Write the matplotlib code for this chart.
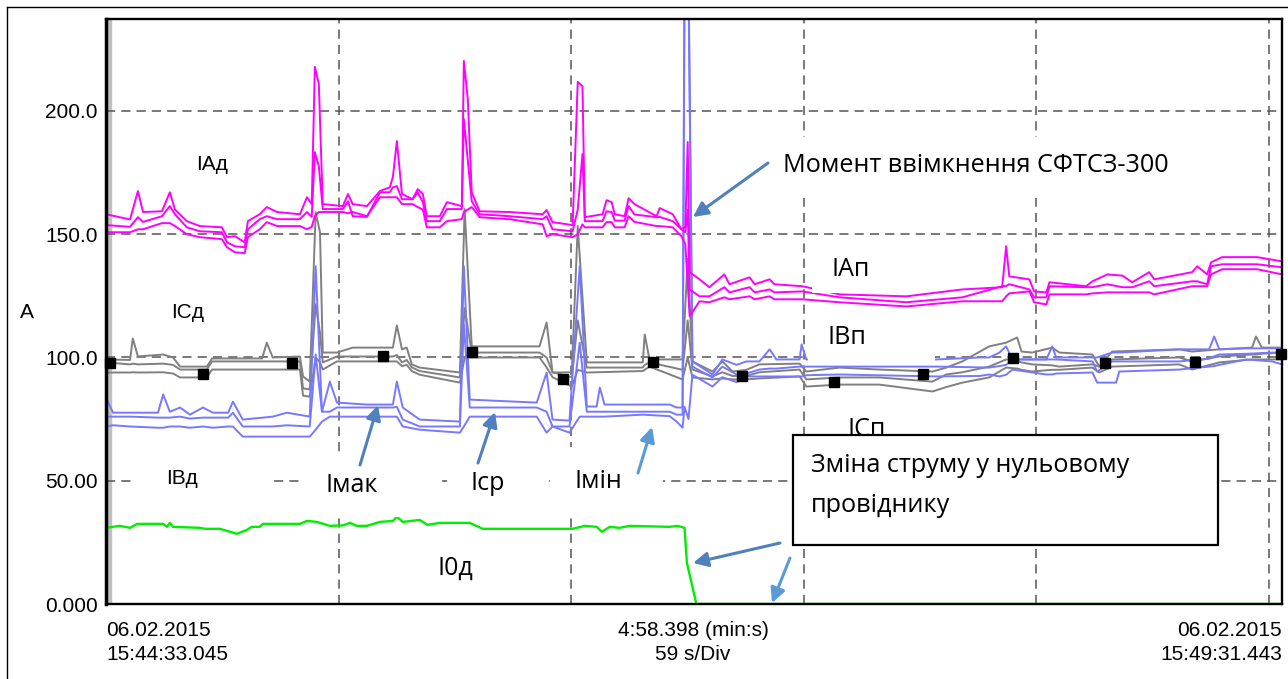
import matplotlib
matplotlib.use("Agg")
import matplotlib.pyplot as plt
import matplotlib.transforms as mtransforms
from matplotlib.patches import Rectangle
from matplotlib.lines import Line2D

# -----------------------------
# Data (time in s, current in A)
# -----------------------------
# phase A (magenta): max / avg / min
a_t = [0, 6.1, 8.1, 9.4, 14.2, 16.2, 17.5, 20.5, 23.8, 29.4,
       30.7, 32.7, 35.2, 36.0, 39.0, 40.8, 43.4, 49.2, 51.0, 52.2,
       53.0, 54.0, 55.0, 60.1, 61.4, 62.6, 66.2, 69.5, 72.0, 72.8,
       73.8, 75.1, 77.8, 79.1, 80.4, 81.4, 84.7, 86.5, 90.3, 90.8,
       91.8, 92.8, 94.8, 102.4, 110.8, 111.8, 113.3, 118.4, 119.7, 120.9,
       121.5, 126.0, 127.0, 128.3, 129.1, 131.6, 132.6, 134.1, 139.7, 140.5,
       143.8, 146.0, 147.0, 147.6, 148.1, 150.6, 153.1, 156.9, 158.2, 163.3,
       164.6, 168.4, 169.6, 176.7, 186.1, 203.1, 217.3, 227.4, 228.4, 229.2,
       234.3, 235.5, 238.6, 239.4, 248.7, 250.3, 254.1, 257.9, 260.4, 264.7,
       266.0, 275.6, 276.9, 279.4, 280.4, 283.2, 292.1, 298.4]
a_max = [158.1, 156.0, 167.5, 159.0, 159.3, 167.0, 160.0, 155.3, 153.3, 152.8,
         148.8, 149.2, 146.7, 155.3, 158.1, 161.0, 159.0, 158.1, 165.0, 162.2,
         217.9, 211.0, 162.2, 161.4, 166.3, 162.2, 161.4, 167.5, 169.0, 173.2,
         187.8, 166.3, 164.2, 168.3, 166.3, 157.3, 157.3, 163.0, 161.4, 220.3,
         204.9, 167.0, 159.3, 159.0, 158.1, 159.8, 154.9, 153.7, 211.8, 210.0,
         156.9, 158.1, 163.8, 163.0, 158.1, 157.3, 164.6, 162.2, 157.3, 160.6,
         158.1, 152.0, 153.0, 187.4, 134.6, 131.7, 128.5, 133.7, 129.7, 132.5,
         129.7, 131.7, 129.7, 128.9, 125.6, 124.8, 127.6, 128.5, 145.1, 132.9,
         131.7, 126.8, 126.4, 130.5, 128.9, 130.9, 133.7, 133.2, 130.5, 134.6,
         131.7, 134.6, 137.0, 133.7, 138.6, 140.7, 140.7, 139.0]
a_avg = [153.7, 153.0, 156.9, 155.0, 157.3, 161.4, 158.1, 152.8, 151.2, 150.8,
         146.7, 145.1, 144.7, 152.0, 156.1, 157.3, 156.1, 156.1, 159.0, 157.0,
         183.3, 177.6, 160.2, 160.2, 163.4, 157.3, 157.0, 167.0, 167.0, 169.0,
         169.5, 164.2, 164.2, 167.0, 163.0, 155.3, 155.3, 160.2, 160.2, 196.7,
         180.0, 163.4, 158.1, 157.3, 156.1, 157.3, 152.0, 151.2, 160.0, 182.5,
         155.3, 155.3, 159.3, 159.0, 155.5, 155.5, 161.4, 158.0, 156.9, 157.0,
         155.3, 152.0, 150.8, 160.0, 127.6, 124.8, 124.8, 128.5, 126.4, 128.5,
         126.4, 127.6, 126.4, 126.8, 124.4, 122.4, 124.4, 128.9, 129.0, 129.7,
         127.6, 124.4, 124.4, 128.9, 128.5, 128.5, 129.7, 128.5, 128.5, 130.9,
         128.9, 130.9, 130.9, 129.7, 137.0, 137.8, 137.8, 136.6]
a_min = [150.8, 150.8, 152.0, 152.0, 154.5, 154.5, 153.3, 150.0, 148.8, 148.0,
         144.7, 142.7, 142.3, 148.8, 152.0, 154.9, 153.3, 153.3, 152.0, 153.0,
         157.3, 159.0, 159.0, 159.0, 158.5, 159.0, 157.3, 165.0, 165.0, 165.0,
         165.0, 162.2, 162.2, 161.0, 160.0, 152.8, 152.8, 155.3, 156.1, 159.0,
         160.0, 161.0, 156.9, 156.1, 154.0, 149.2, 150.0, 148.8, 150.0, 154.0,
         152.8, 152.8, 154.9, 154.9, 152.8, 152.8, 157.3, 155.0, 153.3, 153.3,
         152.8, 149.2, 145.9, 130.0, 116.7, 122.8, 122.4, 124.4, 123.6, 124.8,
         123.6, 124.8, 123.6, 123.6, 122.4, 120.7, 122.8, 122.8, 124.8, 126.0,
         126.8, 122.4, 121.5, 125.6, 125.6, 126.0, 126.4, 126.4, 126.4, 126.4,
         125.6, 128.9, 128.9, 128.9, 133.7, 135.8, 135.8, 133.7]

# phase B (blue): max / avg / min
b_t = [0, 1.8, 6.1, 13.2, 14.5, 16.2, 18.8, 21.3, 24.6, 27.1,
       31.0, 32.2, 34.7, 42.3, 45.9, 51.7, 53.2, 54.8, 56.8, 58.6,
       66.2, 72.8, 73.8, 75.3, 79.6, 89.8, 90.8, 92.3, 109.3, 111.8,
       113.3, 117.6, 120.2, 122.0, 124.5, 125.3, 126.5, 136.2, 143.0, 144.8,
       146.3, 146.8, 147.8, 148.8, 153.9, 156.4, 160.0, 162.5, 165.8, 168.4,
       170.1, 176.0, 176.5, 177.7, 186.1, 210.7, 221.6, 224.1, 226.7, 228.4,
       230.0, 238.6, 240.1, 241.1, 250.3, 251.5, 255.3, 256.3, 257.1, 272.3,
       279.9, 281.2, 282.5, 289.3, 295.9, 298.4]
b_max = [83.7, 77.6, 77.6, 77.6, 85.0, 78.0, 79.7, 76.8, 79.7, 77.6,
         77.6, 82.1, 74.8, 76.0, 77.6, 76.0, 137.0, 78.0, 90.2, 81.7,
         80.9, 80.9, 90.2, 79.7, 74.8, 74.0, 137.0, 82.9, 81.7, 93.9,
         74.8, 74.4, 137.0, 80.1, 80.1, 87.8, 80.9, 80.9, 80.9, 79.7,
         79.7, 260.0, 260.0, 98.4, 93.1, 99.2, 97.0, 98.4, 98.4, 103.3,
         99.2, 99.2, 105.3, 99.2, 99.2, 99.2, 100.0, 100.0, 102.0, 104.5,
         99.2, 99.2, 104.5, 100.0, 100.0, 100.0, 102.0, 102.0, 102.0, 103.3,
         103.3, 108.5, 103.3, 103.7, 103.7, 103.7]
b_avg = [76.0, 76.0, 76.0, 75.6, 75.6, 75.6, 76.0, 75.2, 75.6, 75.6,
         75.6, 77.6, 72.0, 72.0, 72.5, 72.0, 101.2, 78.0, 78.0, 79.7,
         79.7, 79.7, 80.0, 74.8, 72.0, 72.0, 113.4, 79.7, 79.7, 78.0,
         72.0, 72.0, 106.0, 78.0, 78.0, 78.0, 78.0, 78.0, 78.0, 76.8,
         76.8, 250.0, 250.0, 96.3, 91.9, 96.3, 93.1, 93.5, 95.1, 95.5,
         95.5, 96.3, 96.3, 96.3, 96.3, 96.3, 96.0, 95.9, 96.5, 97.0,
         99.2, 99.2, 99.2, 99.2, 98.4, 94.3, 98.4, 98.4, 98.4, 98.4,
         99.5, 100.5, 101.2, 101.5, 102.0, 102.0]
b_min = [72.0, 72.5, 72.0, 71.5, 71.5, 72.0, 72.0, 71.5, 72.0, 71.5,
         72.0, 72.0, 67.9, 67.9, 67.9, 67.9, 70.7, 74.0, 76.0, 76.0,
         76.0, 76.0, 76.0, 72.0, 70.7, 69.5, 72.0, 76.0, 76.0, 69.5,
         72.0, 69.5, 76.0, 76.0, 76.0, 76.0, 76.0, 76.8, 76.2, 74.0,
         71.5, 80.0, 75.0, 93.0, 88.2, 92.0, 90.0, 92.3, 92.3, 92.3,
         92.3, 92.3, 92.3, 92.8, 93.1, 92.3, 92.5, 93.1, 92.3, 93.0,
         95.1, 93.1, 93.1, 93.5, 93.9, 89.8, 89.8, 89.8, 94.3, 95.1,
         96.3, 96.5, 97.0, 99.2, 98.4, 97.2]

# phase C (gray): max / avg / min
c_t = [0, 6.1, 6.8, 8.1, 14.5, 17.0, 18.8, 25.6, 26.9, 39.6,
       40.8, 42.3, 49.2, 50.0, 51.7, 53.2, 54.3, 55.0, 58.6, 62.6,
       72.8, 73.8, 75.1, 76.3, 77.6, 79.6, 89.8, 91.0, 92.8, 110.0,
       111.8, 113.3, 118.2, 119.7, 122.0, 136.2, 136.7, 137.9, 146.3, 147.6,
       148.8, 153.9, 156.4, 159.0, 162.5, 165.8, 176.0, 177.7, 186.1, 196.2,
       209.7, 213.2, 217.3, 224.1, 228.4, 231.2, 232.3, 235.0, 240.1, 241.9,
       250.3, 252.0, 255.3, 272.3, 275.6, 282.5, 290.8, 291.8, 293.3, 298.4]
c_max = [99.2, 99.0, 107.7, 100.4, 101.2, 100.0, 96.3, 96.3, 99.6, 99.6,
         106.0, 100.0, 100.4, 92.3, 90.2, 158.9, 150.8, 102.0, 102.0, 104.0,
         104.0, 113.0, 103.3, 104.0, 97.2, 95.9, 93.9, 160.2, 104.5, 104.5,
         114.2, 93.9, 94.0, 153.3, 98.0, 98.0, 109.3, 99.2, 99.2, 140.0,
         98.4, 94.3, 98.4, 94.3, 95.0, 97.2, 97.5, 94.3, 95.9, 95.1,
         94.3, 95.9, 98.4, 104.5, 106.0, 108.1, 102.4, 102.0, 104.0, 102.0,
         101.2, 96.3, 102.4, 103.3, 102.4, 103.3, 104.0, 108.5, 104.0, 104.0]
c_avg = [98.0, 97.2, 97.5, 97.2, 97.5, 97.0, 95.1, 95.1, 98.4, 98.4,
         98.4, 98.4, 98.4, 87.5, 87.0, 121.5, 110.0, 98.0, 100.4, 100.4,
         100.4, 101.0, 98.0, 99.0, 96.0, 94.5, 91.9, 120.0, 102.0, 102.0,
         100.0, 94.0, 92.0, 115.0, 95.9, 95.9, 97.0, 98.0, 95.0, 115.0,
         95.1, 92.3, 94.0, 92.5, 92.5, 94.0, 95.1, 91.1, 91.9, 91.9,
         90.2, 93.1, 94.0, 96.3, 99.2, 98.5, 98.0, 97.2, 96.8, 96.3,
         97.2, 96.3, 99.2, 100.0, 98.4, 100.4, 101.2, 101.2, 101.5, 102.0]
c_min = [93.9, 93.9, 94.0, 93.9, 94.0, 93.5, 91.9, 91.9, 95.1, 95.1,
         95.1, 95.1, 95.1, 84.5, 84.1, 100.0, 98.0, 95.1, 98.4, 98.4,
         98.4, 98.4, 96.5, 97.0, 94.5, 93.0, 89.8, 100.0, 100.0, 100.0,
         96.0, 92.0, 88.2, 95.0, 93.9, 94.5, 95.0, 96.3, 91.1, 100.0,
         91.9, 91.1, 91.5, 91.1, 91.1, 91.5, 92.3, 88.2, 89.0, 89.0,
         86.2, 88.0, 89.8, 91.9, 95.9, 95.5, 95.0, 94.3, 95.0, 95.0,
         95.9, 93.9, 96.3, 97.2, 95.1, 98.0, 99.2, 99.2, 99.2, 99.2]

# cursor markers on phase C
mk_t = [1.0, 24.6, 47.2, 70.2, 92.8, 115.9, 138.9, 161.5, 184.6, 207.4,
        230.2, 253.5, 276.4, 298.2]
mk_v = [97.6, 93.5, 97.6, 100.8, 102.4, 91.1, 98.0, 92.3, 90.2, 93.1,
        99.6, 97.6, 98.0, 101.6]

# neutral conductor current I0 (green)
i0_t = [0, 3.5, 6.1, 7.9, 14.5, 15.5, 16.2, 17.0, 23.8, 25.1,
        28.9, 33.2, 35.8, 37.0, 39.0, 39.8, 49.2, 51.0, 53.5, 56.8,
        60.1, 61.9, 63.6, 66.2, 69.5, 72.8, 73.8, 75.3, 79.6, 81.6,
        84.7, 92.3, 95.6, 118.4, 121.5, 124.5, 125.8, 127.8, 130.3, 132.9,
        143.0, 145.0, 146.8, 147.4, 149.8, 298.4]
i0_v = [30.9, 31.7, 30.9, 32.5, 32.5, 31.3, 32.9, 31.3, 30.9, 30.5,
        30.5, 28.5, 30.1, 31.3, 31.3, 32.5, 32.5, 33.7, 33.3, 31.7,
        31.9, 32.9, 31.7, 31.7, 33.3, 33.7, 35.4, 33.3, 34.1, 32.1,
        32.9, 32.9, 30.5, 30.5, 31.7, 31.3, 29.3, 31.3, 30.9, 31.7,
        31.3, 31.7, 30.9, 16.7, 0.0, 0.0]

y_ticks = [0, 50, 100, 150, 200]
y_tick_labels = ["0.000", "50.00", "100.0", "150.0", "200.0"]
x_grid = [59, 118, 177, 236, 295]

# -----------------------------
# Figure
# -----------------------------
plt.rcParams["font.family"] = ["Liberation Sans", "DejaVu Sans"]
CAL = ["Open Sans", "DejaVu Sans"]

W, H = 1288, 679
fig = plt.figure(figsize=(W / 100, H / 100), dpi=100)
ax = fig.add_axes([106 / W, 1 - 604 / H, 1176 / W, 585 / H])
# pixel coords of the picture (origin top-left) for the annotations
pix = mtransforms.Affine2D().scale(1 / W, -1 / H).translate(0, 1) + fig.transFigure

MAG = "#ff00ff"
BLUE = "#7878ff"
GRAY = "#808080"
GREEN = "#00ee00"
LW = 1.4

for v in (c_max, c_avg, c_min):
    ax.plot(c_t, v, color=GRAY, lw=LW, zorder=2)
for v in (b_max, b_avg, b_min):
    ax.plot(b_t, v, color=BLUE, lw=LW, zorder=2.1)
for v in (a_max, a_avg, a_min):
    ax.plot(a_t, v, color=MAG, lw=LW, zorder=2.2)
ax.plot(i0_t, i0_v, color=GREEN, lw=LW + 0.3, zorder=2.3)
ax.plot(mk_t, mk_v, "s", color="black", ms=6.5, clip_on=False, zorder=4)

ax.axvspan(0, 1.2, color="#c0c0c0", zorder=1)

ax.set_xlim(0, 298.4)
ax.set_ylim(0, 237.3)
ax.set_xticks(x_grid)
ax.set_xticklabels([])
ax.set_yticks(y_ticks)
ax.set_yticklabels(y_tick_labels, fontsize=15)
ax.tick_params(length=0, pad=6)
ax.grid(True, color="#555555", lw=1.1, linestyle=(0, (6, 4)))

for side in ("top", "right", "bottom"):
    ax.spines[side].set_linewidth(1.7)
ax.spines["left"].set_linewidth(2.5)

# outer frame
fig.add_artist(Line2D([7 / W, 1], [1 - 7 / H, 1 - 7 / H], color="black", lw=1))
fig.add_artist(Line2D([7 / W, 7 / W], [0, 1 - 7 / H], color="black", lw=1))

# white boxes behind the labels
label_boxes = [(133, 462, 272, 500), (300, 457, 440, 517), (447, 462, 543, 510),
               (550, 447, 663, 517), (775, 137, 1190, 198), (812, 250, 885, 293),
               (808, 318, 935, 361)]
for x0, y0, x1, y1 in label_boxes:
    ax.add_patch(Rectangle((x0, y0), x1 - x0, y1 - y0, transform=pix,
                           facecolor="white", edgecolor="none",
                           clip_on=False, zorder=5))


def label(x, y, s, size=15, family=None, ha="center", z=7):
    kw = {"family": family} if family else {}
    ax.text(x, y, s, transform=pix, fontsize=size, ha=ha, va="center",
            clip_on=False, zorder=z, **kw)


label(212, 165, "IАд")
label(188, 312, "IСд")
label(182, 478, "IВд")
label(27, 313, "A")
label(352, 485, "Iмак", 18, CAL)
label(488, 484, "Iср", 18, CAL)
label(598, 482, "Iмін", 18, CAL)
label(455, 568, "I0д", 18, CAL)
label(851, 270, "IАп", 18, CAL)
label(847, 338, "IВп", 18, CAL)
label(867, 430, "IСп", 18, CAL, z=4.5)
label(783, 165, "Момент ввімкнення СФТСЗ-300", 18.2, CAL, ha="left")

# callout box
ax.add_patch(Rectangle((793, 435), 425, 110, transform=pix, facecolor="white",
                       edgecolor="black", lw=1.6, clip_on=False, zorder=5.5))
label(811, 466, "Зміна струму у нульовому", 18.2, CAL, ha="left")
label(811, 506, "провіднику", 18.2, CAL, ha="left")

# arrows
DARK = "#4f81bd"
LIGHT = "#5b9bd5"
arrows = [((768, 163), (693, 217), DARK), ((360, 465), (378, 405), DARK),
          ((478, 463), (495, 412), DARK), ((638, 473), (652, 427), LIGHT),
          ((780, 543), (693, 563), DARK), ((790, 558), (772, 603), LIGHT)]
for tail, tip, col in arrows:
    ax.annotate("", xy=tip, xytext=tail, xycoords=pix, textcoords=pix,
                annotation_clip=False, zorder=6,
                arrowprops=dict(arrowstyle="-|>", color=col, lw=2.2,
                                mutation_scale=22, shrinkA=0, shrinkB=0))

# time labels under the axis
fig.text(106 / W, 1 - 621 / H, "06.02.2015\n15:44:33.045", fontsize=15,
         ha="left", va="top", linespacing=1.35)
fig.text(693 / W, 1 - 621 / H, "4:58.398 (min:s)\n59 s/Div", fontsize=15,
         ha="center", va="top", multialignment="center", linespacing=1.35)
fig.text(1282 / W, 1 - 621 / H, "06.02.2015\n15:49:31.443", fontsize=15,
         ha="right", va="top", multialignment="right", linespacing=1.35)

fig.savefig("out.png", dpi=100)
